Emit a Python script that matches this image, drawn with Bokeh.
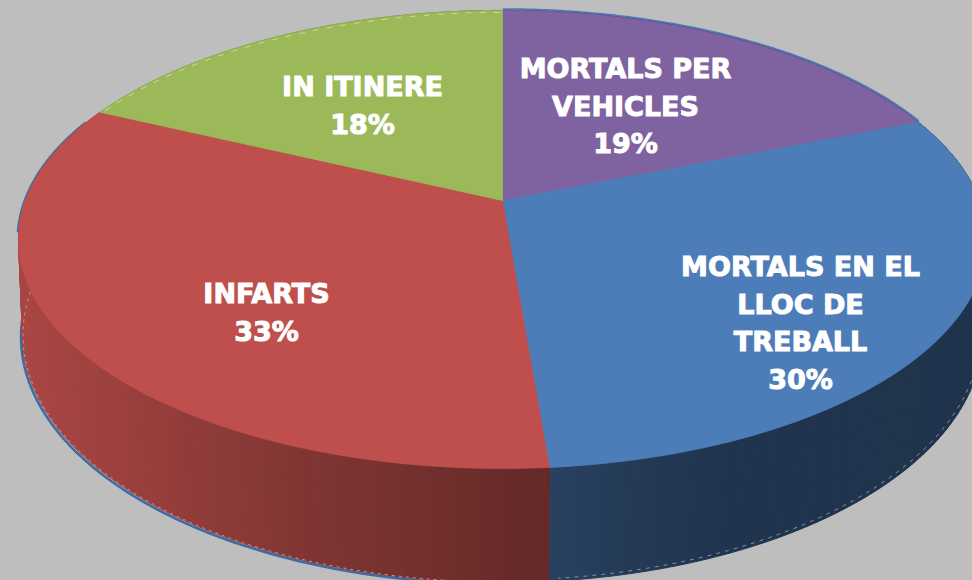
import numpy as np
from bokeh.plotting import figure
from bokeh.core.properties import value
from bokeh.embed import file_html
from bokeh.resources import INLINE

# --- data (clockwise from 12 o'clock) ---
categories = ["MORTALS PER VEHICLES", "MORTALS EN EL LLOC DE TREBALL", "INFARTS", "IN ITINERE"]
shares = [18.9, 29.8, 33.3, 18.0]
percent_labels = ["19%", "30%", "33%", "18%"]
label_lines = [["MORTALS PER", "VEHICLES"], ["MORTALS EN EL", "LLOC DE", "TREBALL"], ["INFARTS"], ["IN ITINERE"]]
colors = ["#7F62A0", "#4D7DB9", "#BE4F4C", "#9BB958"]

# --- layout / style ---
W, H = 972, 580
BG = "#BEBEBE"
TOP = dict(cx=502.0, c0=200.0, A=477.0, B=222.4, k=0.17)
LOW = dict(cx=502.0, c0=293.0, A=473.0, B=239.9, k=0.17)
label_anchor = [(625, 68), (800, 266), (266, 293), (362, 86)]
LINE = 37.6
side_x = [0, 60, 300, 551, 640, 720, 972]
side_shade = [0.90, 0.86, 0.68, 0.52, 0.46, 0.42, 0.41]


def project(theta, g):
    x, y = np.sin(theta), np.cos(theta)
    d = 1 + g["k"] * y
    return g["cx"] + g["A"] * x / d, g["c0"] - g["B"] * y / d


def hex2rgb(c):
    return np.array([int(c[i:i + 2], 16) for i in (1, 3, 5)], dtype=float)


def rgb2hex(v):
    return "#%02x%02x%02x" % tuple(int(round(min(255, max(0, t)))) for t in v)


p = figure(width=W, height=H, x_range=(0, W), y_range=(H, 0), toolbar_location=None,
           output_backend="svg", min_border=0, outline_line_color=None,
           background_fill_color=BG, border_fill_color=BG,
           styles={"position": "fixed", "left": "0", "top": "0", "background-color": BG})
p.axis.visible = False
p.grid.visible = False

edges = np.radians(np.concatenate([[0], np.cumsum(shares)]) * 3.6)

# blue edge that shows round the lower-left of the body and the back of the top
t = np.linspace(edges[2] - 0.05, edges[3], 160)
x, y = project(t, LOW)
p.line(x - 1.5, y + 1.5, line_color="#3B6BA5", line_width=2.5)
t = np.linspace(np.radians(262), np.radians(292), 60)
x, y = project(t, TOP)
x2, y2 = project(t, LOW)
p.line(np.minimum(x, x2) - 1.2, np.where(x < x2, y, y2), line_color="#3B6BA5", line_width=1.5)
t = np.linspace(0, edges[1], 100)
x, y = project(t, TOP)
p.line(x + 0.3, y - 1.0, line_color="#4D7DB9", line_width=2.5)

# body of the pie: thin quads with a horizontal shade
xs, ys, fills = [], [], []
for i, base in enumerate(colors):
    n = max(8, int(shares[i] * 3))
    ts = np.linspace(edges[i], edges[i + 1], n + 1)
    xt, yt = project(ts, TOP)
    xb, yb = project(ts, LOW)
    for j in range(n):
        xs.append([xt[j], xt[j + 1], xb[j + 1], xb[j]])
        ys.append([yt[j], yt[j + 1], yb[j + 1], yb[j]])
        s = np.interp((xt[j] + xt[j + 1]) / 2, side_x, side_shade)
        fills.append(rgb2hex(hex2rgb(base) * s))
p.patches(xs, ys, fill_color=fills, line_color=fills, line_width=1)

# light broken lines just inside the lower rim
t = np.linspace(edges[1] + 0.25, edges[2] - 0.02, 120)
x, y = project(t, LOW)
p.line(x - 2, y - 2.5, line_color="#7F90A6", line_width=1, line_dash="4 5")
t = np.linspace(edges[2] + 0.1, edges[3], 120)
x, y = project(t, LOW)
p.line(x + 0.5, y - 0.5, line_color="#D9A8A6", line_width=0.8, line_dash="3 4")

# top face
for i, base in enumerate(colors):
    ts = np.linspace(edges[i], edges[i + 1], 120)
    x, y = project(ts, TOP)
    p.patch(np.concatenate([[TOP["cx"]], x]), np.concatenate([[TOP["c0"]], y]),
            fill_color=base, line_color=base, line_width=0.8)

# faint light broken line along the back of the green slice
t = np.linspace(edges[3] + 0.02, edges[4], 100)
x, y = project(t, TOP)
p.line(x, y + 2, line_color="#C9D8A6", line_width=1, line_dash="6 8")

# labels
for lines, pct, (ax, ay) in zip(label_lines, percent_labels, label_anchor):
    rows = lines + [pct]
    p.text([ax] * len(rows), [ay + r * LINE for r in range(len(rows))], text=rows,
           text_color="white", text_font=value("DejaVu Sans"), text_font_style="bold",
           text_font_size="27px", text_align="center", text_baseline="middle",
           text_outline_color="white")

open("out.html", "w").write(file_html(p, INLINE))
